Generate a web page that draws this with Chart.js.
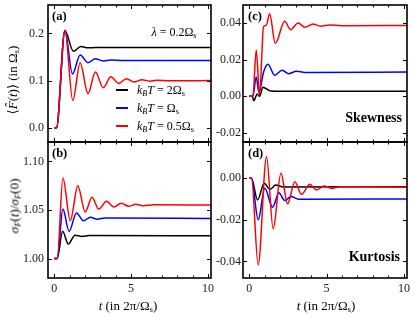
<!DOCTYPE html>
<html>
<head>
<meta charset="utf-8">
<script src="https://cdn.jsdelivr.net/npm/chart.js@4.4.1/dist/chart.umd.min.js"></script>
<style>
  html, body { margin: 0; padding: 0; background: #fff; }
  #wrap { position: relative; width: 415px; height: 316px; overflow: hidden;
          font-family: "Liberation Serif", "DejaVu Serif", serif; color: #000; }
  canvas { position: absolute; }
  .txt { position: absolute; white-space: nowrap; line-height: 1; font-size: 12px; }
  .c { transform: translate(-50%, -50%); }
  .r { transform: translate(0, -50%); }
  .rot { transform: translate(-50%, -50%) rotate(-90deg); font-size: 13px; }
  .tag { font-weight: bold; font-size: 12.5px; }
  .big { font-weight: bold; font-size: 14px; }
  sub { font-size: 0.68em; vertical-align: -0.28em; line-height: 0; }
  .sw { position: absolute; width: 12px; height: 1.5px; }
</style>
</head>
<body>
<div id="wrap">
  <canvas id="cA"></canvas>
  <canvas id="cB"></canvas>
  <canvas id="cC"></canvas>
  <canvas id="cD"></canvas>

  <div class="txt tag" style="left:52px; top:10px;">(a)</div>
  <div class="txt tag" style="left:52px; top:147px;">(b)</div>
  <div class="txt tag" style="left:248px; top:10px;">(c)</div>
  <div class="txt tag" style="left:248px; top:147px;">(d)</div>

  <div class="txt c" style="left:174px; top:32px;"><i>λ</i> = 0.2Ω<sub>s</sub></div>

  <div class="sw" style="left:116px; top:89px; background:#000;"></div>
  <div class="sw" style="left:116px; top:107px; background:#00f;"></div>
  <div class="sw" style="left:116px; top:125px; background:#f00;"></div>
  <div class="txt r" style="left:137px; top:90px;"><i>k<sub>B</sub>T</i> = 2Ω<sub>s</sub></div>
  <div class="txt r" style="left:137px; top:108px;"><i>k<sub>B</sub>T</i> = Ω<sub>s</sub></div>
  <div class="txt r" style="left:137px; top:126px;"><i>k<sub>B</sub>T</i> = 0.5Ω<sub>s</sub></div>

  <div class="txt big" style="right:13px; top:111px;">Skewness</div>
  <div class="txt big" style="right:15px; top:250px;">Kurtosis</div>

  <div class="txt rot" style="left:12px; top:80px;">⟨<i>F̂</i>(<i>t</i>)⟩ (in Ω<sub>s</sub>)</div>
  <div class="txt rot" style="left:14px; top:206px;"><i>σ<sub>F</sub></i>(<i>t</i>)/<i>σ<sub>F</sub></i>(0)</div>

  <div class="txt c" style="left:128px; top:305px; font-size:13px;"><i>t</i> (in 2π/Ω<sub>s</sub>)</div>
  <div class="txt c" style="left:326px; top:305px; font-size:13px;"><i>t</i> (in 2π/Ω<sub>s</sub>)</div>
</div>

<script>
// ── Data: [t, value] ─────────────────────────────────────────────────────
// (a) <F(t)>
const aBlack = [[0,0],[0.15,0],[0.7,0.206],[1.25,0.162],[1.74,0.172],[2.2,0.1695],[2.7,0.170],[10.5,0.170]];
const aBlue  = [[0,0],[0.15,0],[0.7,0.206],[1.19,0.114],[1.69,0.154],[2.2,0.138],[2.68,0.146],[3.19,0.1415],[3.69,0.1435],[4.5,0.1425],[10.5,0.1425]];
const aRed   = [[0,0],[0.15,0],[0.7,0.206],[1.21,0.058],[1.69,0.138],[2.2,0.072],[2.68,0.118],[3.19,0.085],[3.69,0.108],
                [4.2,0.094],[4.7,0.104],[5.2,0.097],[5.7,0.102],[6.2,0.0988],[6.7,0.1006],[7.5,0.0998],[10.5,0.1]];

// (b) sigma_F(t)/sigma_F(0)
const bBlack = [[0,1],[0.2,1],[0.55,1.028],[0.92,1.015],[1.36,1.024],[1.8,1.0228],[2.3,1.0237],[10.5,1.0235]];
const bBlue  = [[0,1],[0.2,1],[0.57,1.051],[0.97,1.028],[1.45,1.047],[1.91,1.039],[2.35,1.0425],[2.8,1.0405],[3.3,1.0418],[10.5,1.0413]];
const bRed   = [[0,1],[0.2,1],[0.57,1.083],[1.05,1.039],[1.54,1.075],[2.02,1.048],[2.46,1.063],[2.9,1.051],[3.4,1.059],
                [3.9,1.053],[4.35,1.057],[4.85,1.0538],[5.3,1.0558],[5.8,1.0545],[6.5,1.0553],[10.5,1.055]];

// (c) skewness
const cBlack = [[0,0],[0.2,0],[0.3,-0.0024],[0.52,0.0013],[0.67,0.0],[0.89,0.005],[1.32,0.0031],[2.0,0.0028],[10.5,0.0028]];
const cBlue  = [[0,0],[0.24,0],[0.455,0.0106],[0.63,0.0019],[0.93,0.0133],[1.21,0.0176],[1.65,0.0115],[2.12,0.0143],
                [2.55,0.0124],[3.05,0.0137],[3.6,0.0131],[10.5,0.0133]];
const cRed   = [[0,0],[0.24,0],[0.455,0.0254],[0.67,0.0007],[0.93,0.0383],[1.1,0.0389],[1.32,0.0452],[1.69,0.029],
                [2.29,0.0411],[2.68,0.0365],[3.16,0.0402],[3.6,0.0378],[4.13,0.0396],[4.6,0.0384],[5.2,0.0391],[6,0.0387],[10.5,0.0388]];

// (d) kurtosis
const dBlack = [[0,0],[0.15,0],[0.54,-0.0104],[0.97,-0.0024],[1.34,-0.0053],[1.72,-0.0032],[2.2,-0.0042],[10.5,-0.004]];
const dBlue  = [[0,0],[0.15,0],[0.58,-0.02],[1.01,-0.0048],[1.51,-0.0139],[1.92,-0.0069],[2.3,-0.0107],[2.7,-0.0088],[3.2,-0.0101],[10.5,-0.0099]];
const dRed   = [[0,0],[0.15,0],[0.58,-0.0416],[1.12,0.0104],[1.55,-0.0243],[2.05,0.0024],[2.48,-0.0123],[2.95,-0.0016],
                [3.38,-0.0077],[3.92,-0.0029],[4.35,-0.0056],[4.85,-0.0037],[5.32,-0.0048],[5.9,-0.0040],[10.5,-0.0043]];

// ── Axes / ticks ──────────────────────────────────────────────────────────
const xRange  = [-0.4, 10.2];
const xMajor  = [0, 5, 10];
const xMinor  = [1, 2, 3, 4, 6, 7, 8, 9];
const yTicksA = [0, 0.1, 0.2];
const yTicksB = [1.00, 1.05, 1.10];
const yTicksC = [-0.02, 0, 0.02, 0.04];
const yTicksD = [-0.04, -0.02, 0];

const FONT = 'Liberation Serif';

// ── Frame + inward ticks on all four sides ────────────────────────────────
const frameTicks = {
  id: 'frameTicks',
  afterDatasetsDraw(chart) {
    const { ctx, chartArea: a, scales: { x, y } } = chart;
    ctx.save();
    ctx.strokeStyle = '#000';
    ctx.lineWidth = 1;
    ctx.beginPath();
    const vt = (v, len) => {
      const px = Math.round(x.getPixelForValue(v)) + 0.5;
      ctx.moveTo(px, a.bottom); ctx.lineTo(px, a.bottom - len);
      ctx.moveTo(px, a.top);    ctx.lineTo(px, a.top + len);
    };
    const ht = (v, len) => {
      const py = Math.round(y.getPixelForValue(v)) + 0.5;
      ctx.moveTo(a.left, py);  ctx.lineTo(a.left + len, py);
      ctx.moveTo(a.right, py); ctx.lineTo(a.right - len, py);
    };
    xMajor.forEach(v => vt(v, 4));
    xMinor.forEach(v => vt(v, 2.5));
    y.ticks.forEach(t => ht(t.value, 4));
    ctx.stroke();
    ctx.lineWidth = 1.6;
    ctx.strokeRect(a.left, a.top, a.right - a.left, a.bottom - a.top);
    ctx.restore();
  },
};

function ds(pts, color) {
  return {
    data: pts.map(([x, y]) => ({ x, y })),
    borderColor: color,
    borderWidth: 1.5,
    pointRadius: 0,
    cubicInterpolationMode: 'monotone',
    fill: false,
  };
}

// no automatic label overflow padding: chart area sits exactly where asked
function noPad(s) {
  s.paddingTop = s.paddingBottom = s.paddingLeft = s.paddingRight = 0;
}

// box: canvas placement; area: wanted chart area (page coords)
function panel(id, box, area, yRange, yTicks, dec, series, showX) {
  const cv = document.getElementById(id);
  cv.style.left = box.left + 'px';
  cv.style.top = box.top + 'px';
  cv.width = box.width;
  cv.height = box.height;
  cv.style.width = box.width + 'px';
  cv.style.height = box.height + 'px';

  const yw = area.left - box.left;
  const xh = showX ? 20 : 0;
  const padBottom = box.top + box.height - area.bottom - xh;

  return new Chart(cv, {
    type: 'line',
    data: { datasets: [ds(series[2], '#ff0000'), ds(series[1], '#0000ff'), ds(series[0], '#000000')] },
    options: {
      animation: false,
      responsive: false,
      events: [],
      layout: {
        autoPadding: false,
        padding: { left: 0, top: area.top - box.top, right: box.left + box.width - area.right, bottom: padBottom },
      },
      plugins: { legend: { display: false }, tooltip: { enabled: false } },
      scales: {
        x: {
          type: 'linear',
          min: xRange[0], max: xRange[1],
          display: showX,
          grid: { display: false, drawTicks: false },
          border: { display: false },
          afterBuildTicks: s => { s.ticks = xMajor.map(value => ({ value })); },
          afterFit: s => { s.height = xh; noPad(s); },
          ticks: { color: '#222', font: { family: FONT, size: 12 }, padding: 4, maxRotation: 0,
                   callback: v => String(v) },
        },
        y: {
          type: 'linear',
          min: yRange[0], max: yRange[1],
          grid: { display: false, drawTicks: false },
          border: { display: false },
          afterBuildTicks: s => { s.ticks = yTicks.map(value => ({ value })); },
          afterFit: s => { s.width = yw; noPad(s); },
          ticks: { color: '#222', font: { family: FONT, size: 12 }, padding: id === 'cA' || id === 'cB' ? 4 : 2,
                   callback: v => v.toFixed(dec) },
        },
      },
    },
    plugins: [frameTicks],
  });
}

panel('cA', { left: 0, top: 0, width: 215, height: 146 }, { left: 48, top: 5, right: 211, bottom: 142 },
      [-0.03, 0.26], yTicksA, 1, [aBlack, aBlue, aRed], false);
panel('cB', { left: 0, top: 138, width: 215, height: 178 }, { left: 48, top: 142, right: 211, bottom: 278 },
      [0.98, 1.12], yTicksB, 2, [bBlack, bBlue, bRed], true);
panel('cC', { left: 205, top: 0, width: 210, height: 146 }, { left: 243, top: 5, right: 407, bottom: 142 },
      [-0.025, 0.05], yTicksC, 2, [cBlack, cBlue, cRed], false);
panel('cD', { left: 205, top: 138, width: 210, height: 178 }, { left: 243, top: 142, right: 407, bottom: 278 },
      [-0.048, 0.0175], yTicksD, 2, [dBlack, dBlue, dRed], true);
</script>
</body>
</html>
